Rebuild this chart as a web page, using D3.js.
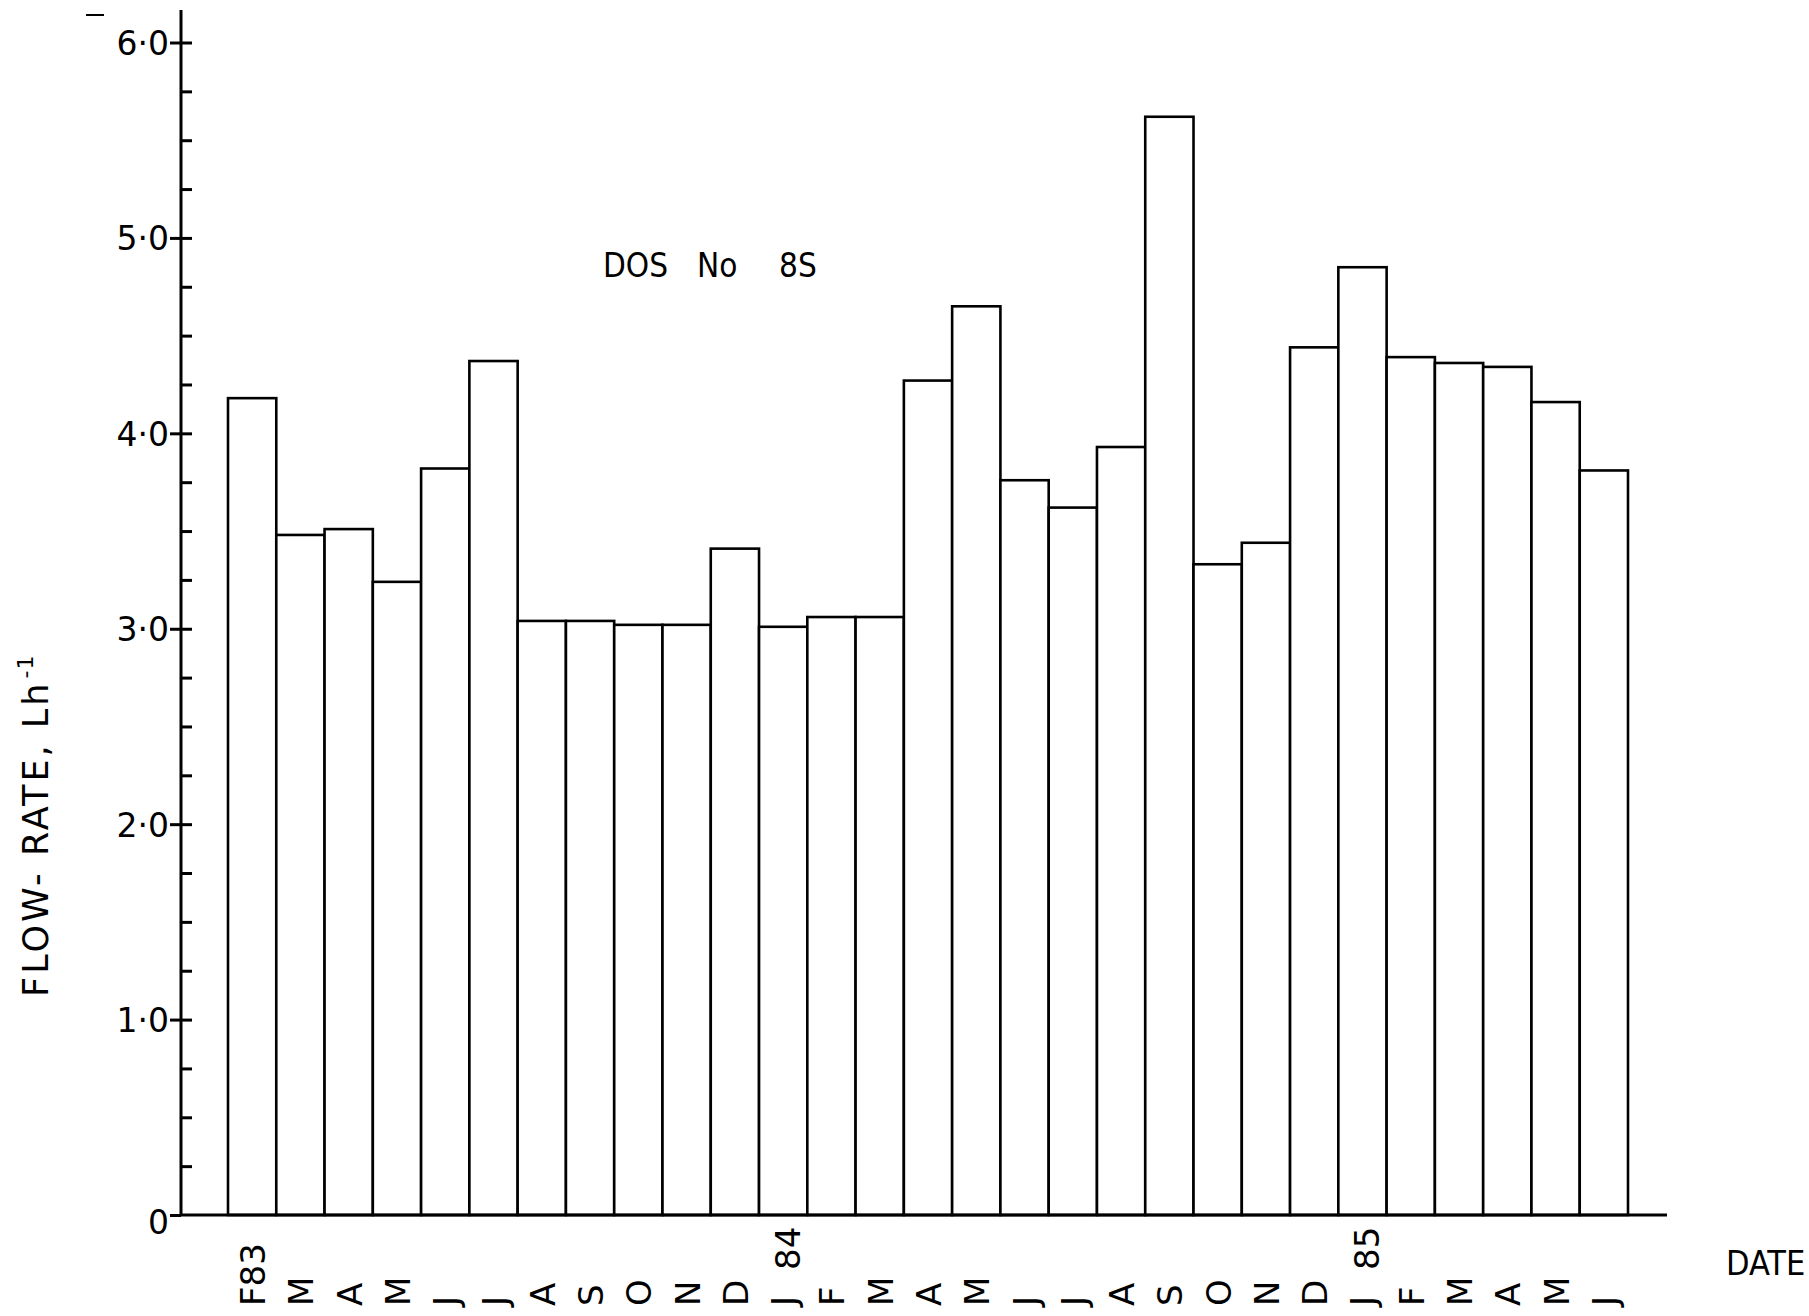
<!DOCTYPE html>
<html>
<head>
<meta charset="utf-8">
<script src="https://cdn.jsdelivr.net/npm/d3@7"></script>
<style>
  body { margin: 0; background: #fff; }
  svg { display: block; }
  text { font-family: "DejaVu Sans", sans-serif; fill: #000; }
</style>
</head>
<body>
<svg id="chart" width="1809" height="1316"></svg>
<script>
// monthly flow-rate, DOS No 8S, Feb 83 - Jun 85
var months = ["F83","M","A","M","J","J","A","S","O","N","D",
              "J","F","M","A","M","J","J","A","S","O","N","D",
              "J","F","M","A","M","J"];
var flowRate = [4.18, 3.48, 3.51, 3.24, 3.82, 4.37, 3.04, 3.04, 3.02, 3.02, 3.41,
                3.01, 3.06, 3.06, 4.27, 4.65, 3.76, 3.62, 3.93, 5.62, 3.33, 3.44, 4.44,
                4.85, 4.39, 4.36, 4.34, 4.16, 3.81];
var yearLabels = ["84", "85"];
var yearIndex = [11, 23];
var titleWords = ["DOS", "No", "8S"];

var svg = d3.select("#chart");

var x = d3.scaleBand()
    .domain(d3.range(months.length))
    .range([228, 1628])
    .padding(0);

var y = d3.scaleLinear()
    .domain([0, 6])
    .range([1215, 42.5]);

var axisX = 181;

// bars
svg.append("g").selectAll(".bar")
    .data(flowRate)
    .enter().append("rect")
    .attr("class", "bar")
    .attr("x", function(d, i) { return x(i); })
    .attr("y", function(d) { return y(d); })
    .attr("width", x.bandwidth())
    .attr("height", function(d) { return y(0) - y(d); })
    .style("fill", "#fff")
    .style("stroke", "#000")
    .style("stroke-width", 2.6);

// y axis: ticks every 0.25, labels on whole numbers
var minor = d3.range(0, 6.01, 0.25);
var yAxis = d3.axisLeft(y)
    .tickValues(minor)
    .tickSize(0)
    .tickPadding(12)
    .tickFormat(function(d) {
        if (d % 1 !== 0) return "";
        return d === 0 ? "0" : d3.format(".1f")(d).replace(".", "\u00b7");
    });

var gy = svg.append("g")
    .attr("transform", "translate(" + axisX + ",0)")
    .call(yAxis);
gy.select(".domain").remove();
gy.selectAll(".tick line")
    .attr("x1", function(d) { return d % 1 === 0 ? -11 : 0; })
    .attr("x2", function(d) { return d === 0 ? 0 : 11; })
    .style("stroke", "#000")
    .style("stroke-width", 3);
gy.selectAll(".tick text")
    .style("font-size", "33px")
    .attr("dy", function(d) { return d === 0 ? "0.55em" : "0.36em"; });

svg.append("line")
    .attr("x1", axisX).attr("x2", axisX)
    .attr("y1", 10).attr("y2", y(0) + 1)
    .style("stroke", "#000").style("stroke-width", 3);

// x baseline
svg.append("line")
    .attr("x1", axisX).attr("x2", 1667)
    .attr("y1", y(0)).attr("y2", y(0))
    .style("stroke", "#000").style("stroke-width", 3);

// month labels, rotated
svg.append("g").selectAll(".month")
    .data(months)
    .enter().append("text")
    .attr("class", "month")
    .attr("transform", function(d, i) {
        return "translate(" + (x(i) + x.bandwidth() / 2 + 13) + ",1306) rotate(-90)";
    })
    .style("font-size", "34px")
    .text(function(d) { return d; });

// year marks above January
svg.append("g").selectAll(".year")
    .data(yearLabels)
    .enter().append("text")
    .attr("class", "year")
    .attr("transform", function(d, i) {
        return "translate(" + (x(yearIndex[i]) + x.bandwidth() / 2 + 17) + ",1270) rotate(-90)";
    })
    .style("font-size", "34px")
    .text(function(d) { return d; });

// axis titles
svg.append("text")
    .attr("x", 1726).attr("y", 1275)
    .style("font-family", "'Liberation Sans Narrow', 'DejaVu Sans Condensed', sans-serif")
    .style("font-size", "34px")
    .text("DATE");

var yt = svg.append("text")
    .attr("transform", "translate(48,997) rotate(-90)")
    .style("font-size", "35px")
    .style("letter-spacing", "3px");
yt.append("tspan").text("FLOW- RATE, Lh");
yt.append("tspan")
    .attr("dy", -15)
    .attr("dx", 2)
    .style("font-size", "22px")
    .style("letter-spacing", "1px")
    .text("-1");

// station title
var titleX = [603, 697, 779];
svg.append("text")
    .attr("y", 277)
    .style("font-family", "'DejaVu Sans Condensed', sans-serif")
    .style("font-size", "33px")
    .selectAll("tspan")
    .data(titleWords)
    .enter().append("tspan")
    .attr("x", function(d, i) { return titleX[i]; })
    .text(function(d) { return d; });

// small mark at top left of the sheet
svg.append("line")
    .attr("x1", 86).attr("x2", 104)
    .attr("y1", 15).attr("y2", 15)
    .style("stroke", "#000").style("stroke-width", 2);
</script>
</body>
</html>
